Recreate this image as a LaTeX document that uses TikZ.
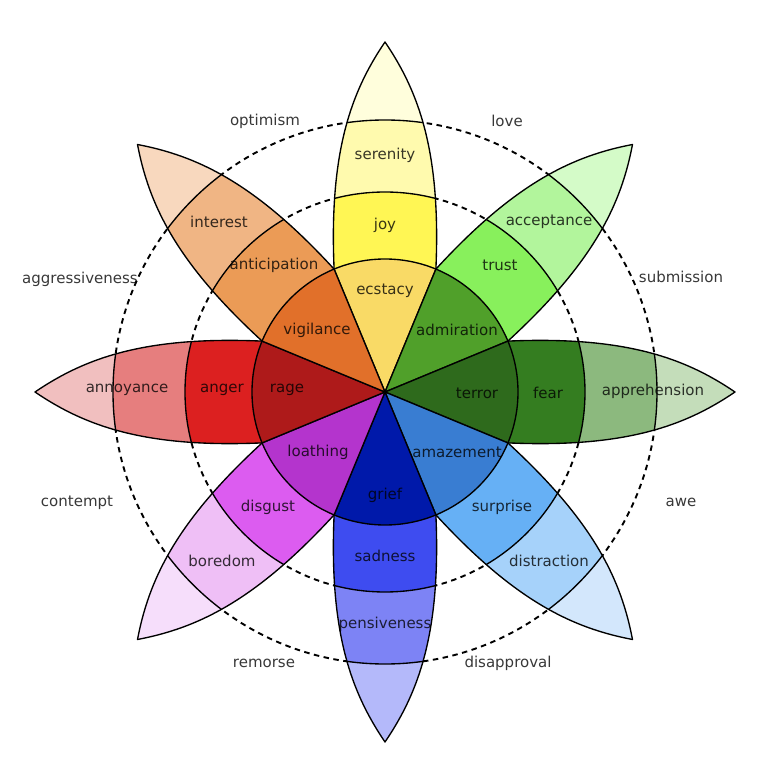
\documentclass[tikz,border=0pt]{standalone}
\usepackage{fontspec}
\setmainfont{DejaVu Sans}

\definecolor{joyA}{HTML}{F9DA66}
\definecolor{joyB}{HTML}{FFF654}
\definecolor{joyC}{HTML}{FFFAAE}
\definecolor{joyD}{HTML}{FFFEDC}
\definecolor{trustA}{HTML}{50A02A}
\definecolor{trustB}{HTML}{88F05C}
\definecolor{trustC}{HTML}{B2F59C}
\definecolor{trustD}{HTML}{D4FBC8}
\definecolor{fearA}{HTML}{2E6A1C}
\definecolor{fearB}{HTML}{347D20}
\definecolor{fearC}{HTML}{8CB97E}
\definecolor{fearD}{HTML}{C4DDBA}
\definecolor{surpriseA}{HTML}{397DD2}
\definecolor{surpriseB}{HTML}{66B0F5}
\definecolor{surpriseC}{HTML}{A6D2FA}
\definecolor{surpriseD}{HTML}{D3E7FC}
\definecolor{sadnessA}{HTML}{0019AA}
\definecolor{sadnessB}{HTML}{3E4CF0}
\definecolor{sadnessC}{HTML}{7D83F5}
\definecolor{sadnessD}{HTML}{B4B9FA}
\definecolor{disgustA}{HTML}{B434CD}
\definecolor{disgustB}{HTML}{DC5CF0}
\definecolor{disgustC}{HTML}{EFBFF6}
\definecolor{disgustD}{HTML}{F6DEFB}
\definecolor{angerA}{HTML}{AE1A1A}
\definecolor{angerB}{HTML}{DC2020}
\definecolor{angerC}{HTML}{E67E7E}
\definecolor{angerD}{HTML}{F1BFBF}
\definecolor{anticipA}{HTML}{E1702A}
\definecolor{anticipB}{HTML}{EB9B56}
\definecolor{anticipC}{HTML}{F0B584}
\definecolor{anticipD}{HTML}{F8D8BE}

% one petal, pointing along the x axis before rotation
\newcommand{\petalpath}{(0,0) -- (-22.5:133) .. controls (240,-56) and (300,-34) .. (350,0) .. controls (300,34) and (240,56) .. (22.5:133) -- cycle}
\newcommand{\petal}[5]{%
  \begin{scope}[rotate=#1]
    \fill[#5] \petalpath;
    \begin{scope}
      \clip \petalpath;
      \fill[#4] (0,0) circle[radius=272];
      \fill[#3] (0,0) circle[radius=200];
      \fill[#2] (0,0) circle[radius=133];
      \draw[edge] (0,0) circle[radius=272] (0,0) circle[radius=200] (0,0) circle[radius=133];
    \end{scope}
    \draw[edge] \petalpath;
  \end{scope}}

\begin{document}
\begin{tikzpicture}[x=1pt, y=1pt,
    edge/.style={line width=1.35pt, line join=round},
    ring/.style={line width=1.9pt, dash pattern=on 5.5pt off 4.5pt},
    emo/.style={text=black, text opacity=0.78, inner sep=0pt, font=\fontsize{15}{17}\selectfont}]

    \useasboundingbox (-385,-390) rectangle (385,392);

    \draw[ring] (0,0) circle[radius=200];
    \draw[ring] (0,0) circle[radius=272];

    \petal{90}{joyA}{joyB}{joyC}{joyD}
    \petal{45}{trustA}{trustB}{trustC}{trustD}
    \petal{0}{fearA}{fearB}{fearC}{fearD}
    \petal{-45}{surpriseA}{surpriseB}{surpriseC}{surpriseD}
    \petal{-90}{sadnessA}{sadnessB}{sadnessC}{sadnessD}
    \petal{-135}{disgustA}{disgustB}{disgustC}{disgustD}
    \petal{180}{angerA}{angerB}{angerC}{angerD}
    \petal{135}{anticipA}{anticipB}{anticipC}{anticipD}

    \node(ecstacy)[emo] at (0,101) {ecstacy};
    \node(joy)[emo] at (0,167) {joy};
    \node(serenity)[emo] at (0,237) {serenity};

    \node(admiration)[emo] at (72,62) {admiration};
    \node(trust)[emo] at (115,127) {trust};
    \node(acceptance)[emo] at (164,170) {acceptance};

    \node(terror)[emo] at (92,-1) {terror};
    \node(fear)[emo] at (163,-1) {fear};
    \node(apprehension)[emo] at (268,1) {apprehension};

    \node(amazement)[emo] at (72,-60) {amazement};
    \node(surprise)[emo] at (117,-115) {surprise};
    \node(distraction)[emo] at (164,-169) {distraction};

    \node(grief)[emo] at (0,-103) {grief};
    \node(sadness)[emo] at (0,-164) {sadness};
    \node(pensiveness)[emo] at (0,-232) {pensiveness};

    \node(loathing)[emo] at (-67,-60) {loathing};
    \node(disgust)[emo] at (-117,-115) {disgust};
    \node(boredom)[emo] at (-163,-169) {boredom};

    \node(rage)[emo] at (-98,2) {rage};
    \node(anger)[emo] at (-163,2) {anger};
    \node(annoyance)[emo] at (-258,2) {annoyance};

    \node(vigilance)[emo] at (-68,62) {vigilance};
    \node(anticipation)[emo] at (-111,127) {anticipation};
    \node(interest)[emo] at (-166,170) {interest};

    % dyads between the petals
    \node(optimism)[emo] at (-120,271) {optimism};
    \node(love)[emo] at (122,271) {love};
    \node(submission)[emo] at (296,115) {submission};
    \node(awe)[emo] at (296,-110) {awe};
    \node(disapproval)[emo] at (123,-271) {disapproval};
    \node(remorse)[emo] at (-121,-271) {remorse};
    \node(contempt)[emo] at (-308,-111) {contempt};
    \node(aggressiveness)[emo] at (-305,113) {aggressiveness};

\end{tikzpicture}
\end{document}
